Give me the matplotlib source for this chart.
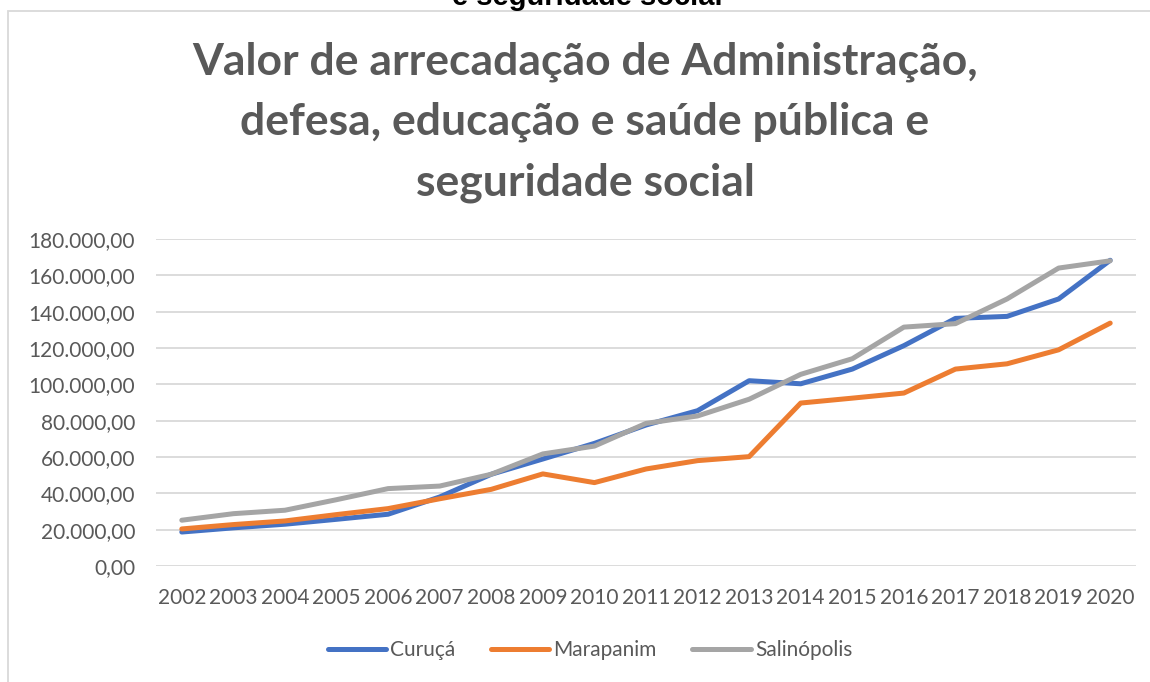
import matplotlib.pyplot as plt
import matplotlib.patches as patches
from matplotlib.ticker import FuncFormatter

# data
years = ["2002", "2003", "2004", "2005", "2006", "2007", "2008", "2009", "2010", "2011",
         "2012", "2013", "2014", "2015", "2016", "2017", "2018", "2019", "2020"]
curuca = [18700, 21000, 23000, 25700, 28500, 38000, 50500, 58900, 67500, 77600,
          85500, 102000, 100300, 108400, 121300, 136300, 137400, 147000, 168300]
marapanim = [20400, 22800, 24800, 28300, 31600, 37000, 42200, 50700, 45900, 53400,
             58000, 60200, 89700, 92400, 95200, 108400, 111300, 119000, 133700]
salinopolis = [25200, 28800, 30700, 36500, 42600, 44000, 50500, 61700, 66000, 78500,
               82600, 91800, 105500, 114100, 131500, 133400, 147000, 164000, 168000]

title = "Valor de arrecadação de Administração,\ndefesa, educação e saúde pública e\nseguridade social"

W, H = 1150, 682
fig = plt.figure(figsize=(W / 100, H / 100), dpi=100)
ax = fig.add_axes([156 / W, 1 - 566 / H, 980 / W, 327 / H])

txt = "#595959"
font = "Lato"

x = list(range(len(years)))
ax.plot(x, curuca, c="#4472C4", lw=3.6, label="Curuçá", solid_capstyle="round", solid_joinstyle="round")
ax.plot(x, marapanim, c="#ED7D31", lw=3.6, label="Marapanim", solid_capstyle="round", solid_joinstyle="round")
ax.plot(x, salinopolis, c="#A5A5A5", lw=3.6, label="Salinópolis", solid_capstyle="round", solid_joinstyle="round")

ax.set_xlim(-0.5, len(years) - 0.5)
ax.set_ylim(0, 180000)
ax.set_yticks(range(0, 180001, 20000))
ax.set_xticks(x)
ax.set_xticklabels(years)


def br_fmt(v, pos):
    s = f"{v:,.2f}"
    return s.replace(",", "X").replace(".", ",").replace("X", ".")


ax.yaxis.set_major_formatter(FuncFormatter(br_fmt))
ax.grid(axis="y", color="#d9d9d9", lw=1.3)
ax.set_axisbelow(True)
for sp in ax.spines.values():
    sp.set_visible(False)
ax.tick_params(length=0, colors=txt, labelsize=15)
ax.tick_params(axis="y", pad=15)
ax.tick_params(axis="x", pad=16)
for lab in ax.get_xticklabels() + ax.get_yticklabels():
    lab.set_fontfamily(font)

# title and clipped text above the chart
fig.text(585 / W, 1 - 122 / H, title, ha="center", va="center", ma="center",
         fontsize=32, fontweight="bold", color=txt, family=font, linespacing=1.6)
fig.text(587 / W, 1 - 5 / H, "e seguridade social", ha="center", va="baseline",
         fontsize=21, fontweight="bold", color="black", family="Liberation Sans")

# chart area border, clipped on right and bottom
fig.patches.append(patches.Rectangle((7.5 / W, -0.1), 1.2, 1.1 - 10.7 / H, transform=fig.transFigure,
                                     fill=False, edgecolor="#d9d9d9", lw=1.3))

leg = fig.legend(loc="center", bbox_to_anchor=(590 / W, 1 - 650 / H), ncol=3, frameon=False,
                 handlelength=2.8, handletextpad=0.2, columnspacing=1.7,
                 prop={"family": font, "size": 15})
for t in leg.get_texts():
    t.set_color(txt)

plt.savefig("out.png", dpi=100)
